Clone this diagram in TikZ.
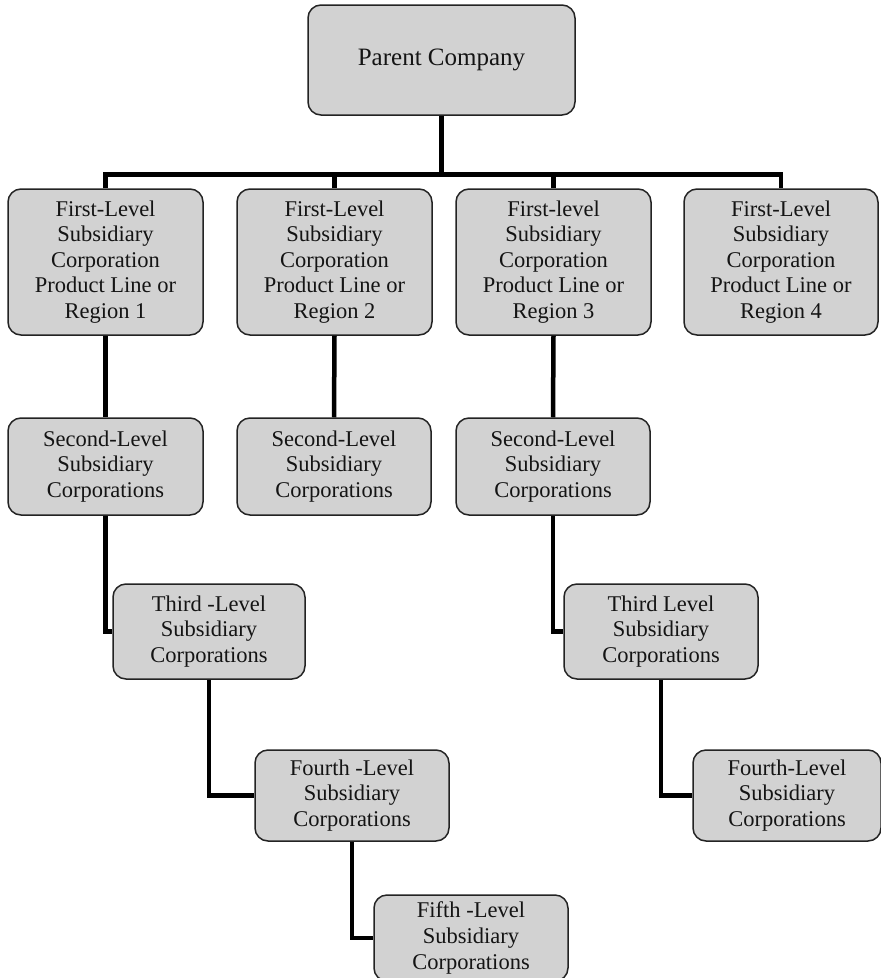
\documentclass[tikz,border=0pt]{standalone}
\usepackage{fontspec}
\setmainfont{Liberation Serif}
\definecolor{boxgray}{RGB}{210,210,210}
\definecolor{edgegray}{RGB}{35,35,35}
\definecolor{txt}{RGB}{20,20,20}
\begin{document}
\begin{tikzpicture}[x=1pt,y=-1pt,
  box/.style={draw=edgegray, line width=1.5pt, fill=boxgray, rounded corners=13pt,
    inner sep=0pt, align=center, text=txt,
    font=\fontsize{22.5}{25.8}\selectfont},
  lvlone/.style={box, minimum width=195pt, minimum height=146pt, font=\fontsize{22.5}{25.5}\selectfont},
  lvl/.style={box, minimum width=194pt},
  conn/.style={line width=4.5pt, black}]
\useasboundingbox (0,0) rectangle (881,978);
\clip (0,0) rectangle (881,978);

% parent
\node[box, minimum width=267pt, minimum height=110pt, font=\fontsize{25}{30}\selectfont] (p) at (441.5,60) {Parent Company};

% first level
\node[lvlone] (a1) at (105.5,262) {First-Level\\Subsidiary\\Corporation\\Product Line or\\Region 1};
\node[lvlone] (a2) at (334.5,262) {First-Level\\Subsidiary\\Corporation\\Product Line or\\Region 2};
\node[lvlone] (a3) at (553.5,262) {First-level\\Subsidiary\\Corporation\\Product Line or\\Region 3};
\node[lvlone, minimum width=194pt] (a4) at (781,262) {First-Level\\Subsidiary\\Corporation\\Product Line or\\Region 4};

% second level
\node[lvl, minimum width=195pt, minimum height=97pt] (s1) at (105.5,466.5) {Second-Level\\Subsidiary\\Corporations};
\node[lvl, minimum height=97pt] (s2) at (334,466.5) {Second-Level\\Subsidiary\\Corporations};
\node[lvl, minimum height=97pt] (s3) at (553,466.5) {Second-Level\\Subsidiary\\Corporations};

% third level
\node[lvl, minimum width=192pt, minimum height=95pt] (t1) at (209,631.5) {Third -Level\\Subsidiary\\Corporations};
\node[lvl, minimum height=95pt] (t2) at (661,631.5) {Third Level\\Subsidiary\\Corporations};

% fourth level
\node[lvl, minimum height=91pt] (f1) at (352,795.5) {Fourth -Level\\Subsidiary\\Corporations};
\node[lvl, minimum width=188pt, minimum height=91pt] (f2) at (787,795.5) {Fourth-Level\\Subsidiary\\Corporations};

% fifth level
\node[lvl, minimum height=86pt] (v1) at (471,938) {Fifth -Level\\Subsidiary\\Corporations};

% connectors
\coordinate (j) at (443,175);
\draw[conn] (p.south) -- (p.south |- j);
\draw[conn] (a1.north) -- ++(0,-14) -| (a4.north);
\draw[conn] (a2.north) -- (a2.north |- j);
\draw[conn] (a3.north) -- (a3.north |- j);
\draw[conn] (a1.south) -- (s1.north);
\draw[conn] (a2.south) -- (s2.north);
\draw[conn] (a3.south) -- (s3.north);
\draw[conn] (s1.south) |- (t1.west);
\draw[conn] (s3.south) |- (t2.west);
\draw[conn] (t1.south) |- (f1.west);
\draw[conn] (t2.south) |- (f2.west);
\draw[conn] (f1.south) |- (v1.west);
\end{tikzpicture}
\end{document}
